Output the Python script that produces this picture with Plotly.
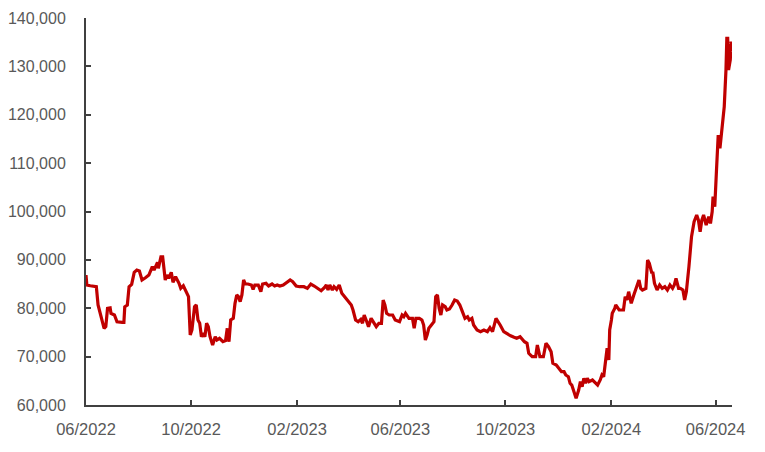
import plotly.graph_objects as go

dates = [
    "2022-06-01", "2022-06-02", "2022-06-06", "2022-06-13", "2022-06-15", "2022-06-18", "2022-06-22", "2022-06-24",
    "2022-06-26", "2022-06-29", "2022-06-30", "2022-07-04", "2022-07-07", "2022-07-13", "2022-07-15", "2022-07-16",
    "2022-07-19", "2022-07-21", "2022-07-24", "2022-07-27", "2022-07-30", "2022-08-02", "2022-08-05", "2022-08-09",
    "2022-08-13", "2022-08-17", "2022-08-19", "2022-08-23", "2022-08-24", "2022-08-27", "2022-08-29", "2022-09-01",
    "2022-09-03", "2022-09-05", "2022-09-08", "2022-09-10", "2022-09-13", "2022-09-17", "2022-09-19", "2022-09-22",
    "2022-09-25", "2022-09-28", "2022-09-30", "2022-10-02", "2022-10-05", "2022-10-07", "2022-10-09", "2022-10-11",
    "2022-10-13", "2022-10-15", "2022-10-17", "2022-10-19", "2022-10-21", "2022-10-23", "2022-10-26", "2022-10-29",
    "2022-10-31", "2022-11-03", "2022-11-07", "2022-11-10", "2022-11-12", "2022-11-14", "2022-11-16", "2022-11-19",
    "2022-11-21", "2022-11-23", "2022-11-25", "2022-11-27", "2022-11-29", "2022-12-01", "2022-12-03", "2022-12-06",
    "2022-12-10", "2022-12-12", "2022-12-14", "2022-12-18", "2022-12-21", "2022-12-23", "2022-12-27", "2022-12-30",
    "2023-01-03", "2023-01-06", "2023-01-09", "2023-01-12", "2023-01-16", "2023-01-20", "2023-01-24", "2023-01-27",
    "2023-01-31", "2023-02-04", "2023-02-09", "2023-02-13", "2023-02-17", "2023-02-21", "2023-02-25", "2023-03-01",
    "2023-03-05", "2023-03-07", "2023-03-09", "2023-03-11", "2023-03-14", "2023-03-16", "2023-03-19", "2023-03-22",
    "2023-03-25", "2023-03-28", "2023-04-01", "2023-04-05", "2023-04-07", "2023-04-10", "2023-04-13", "2023-04-16",
    "2023-04-18", "2023-04-20", "2023-04-23", "2023-04-25", "2023-04-28", "2023-05-01", "2023-05-04", "2023-05-07",
    "2023-05-10", "2023-05-12", "2023-05-14", "2023-05-16", "2023-05-19", "2023-05-23", "2023-05-26", "2023-05-31",
    "2023-06-03", "2023-06-05", "2023-06-07", "2023-06-11", "2023-06-15", "2023-06-17", "2023-06-19", "2023-06-23",
    "2023-06-26", "2023-06-28", "2023-06-30", "2023-07-02", "2023-07-04", "2023-07-07", "2023-07-10", "2023-07-12",
    "2023-07-14", "2023-07-16", "2023-07-18", "2023-07-20", "2023-07-23", "2023-07-25", "2023-07-28", "2023-07-31",
    "2023-08-03", "2023-08-06", "2023-08-09", "2023-08-12", "2023-08-15", "2023-08-18", "2023-08-20", "2023-08-23",
    "2023-08-25", "2023-08-29", "2023-09-02", "2023-09-06", "2023-09-10", "2023-09-13", "2023-09-16", "2023-09-20",
    "2023-09-23", "2023-09-25", "2023-09-29", "2023-10-03", "2023-10-07", "2023-10-11", "2023-10-14", "2023-10-18",
    "2023-10-21", "2023-10-23", "2023-10-26", "2023-10-28", "2023-11-01", "2023-11-05", "2023-11-07", "2023-11-10",
    "2023-11-13", "2023-11-14", "2023-11-17", "2023-11-20", "2023-11-23", "2023-11-25", "2023-11-29", "2023-12-02",
    "2023-12-05", "2023-12-08", "2023-12-10", "2023-12-13", "2023-12-15", "2023-12-17", "2023-12-20", "2023-12-22",
    "2023-12-25", "2023-12-27", "2023-12-29", "2023-12-31", "2024-01-02", "2024-01-04", "2024-01-06", "2024-01-10",
    "2024-01-14", "2024-01-16", "2024-01-19", "2024-01-21", "2024-01-23", "2024-01-25", "2024-01-27", "2024-01-29",
    "2024-01-30", "2024-02-01", "2024-02-02", "2024-02-05", "2024-02-06", "2024-02-10", "2024-02-15", "2024-02-17",
    "2024-02-19", "2024-02-21", "2024-02-24", "2024-02-27", "2024-03-01", "2024-03-04", "2024-03-06", "2024-03-08",
    "2024-03-12", "2024-03-14", "2024-03-16", "2024-03-19", "2024-03-20", "2024-03-22", "2024-03-25", "2024-03-28",
    "2024-03-31", "2024-04-03", "2024-04-06", "2024-04-09", "2024-04-12", "2024-04-14", "2024-04-16", "2024-04-19",
    "2024-04-21", "2024-04-24", "2024-04-26", "2024-04-28", "2024-05-01", "2024-05-04", "2024-05-07", "2024-05-10",
    "2024-05-12", "2024-05-14", "2024-05-16", "2024-05-18", "2024-05-21", "2024-05-24", "2024-05-26", "2024-05-28",
    "2024-05-29", "2024-05-31", "2024-06-02", "2024-06-04", "2024-06-06", "2024-06-08", "2024-06-10", "2024-06-11",
    "2024-06-13", "2024-06-14", "2024-06-15", "2024-06-16", "2024-06-18", "2024-06-19", "2024-06-20",
]

prices = [
    86870, 84800, 84660, 84450, 80670, 78600, 75850, 76200,
    80000, 80100, 78950, 78600, 77200, 77100, 77100, 80300,
    80670, 84450, 84950, 87430, 87900, 87700, 85840, 86310,
    86870, 88590, 87900, 89500, 88260, 90650, 90650, 85840,
    86870, 86180, 87430, 85360, 86520, 85150, 84110, 84660,
    83420, 82390, 74470, 75500, 80320, 80670, 77570, 76890,
    74120, 74820, 74120, 76890, 76190, 74120, 72400, 74120,
    73440, 73790, 73090, 73290, 75850, 73090, 77570, 77920,
    81020, 82740, 82390, 81360, 82740, 85840, 85010, 85010,
    84800, 83910, 84800, 84800, 83420, 85010, 85150, 84600,
    85010, 84600, 84800, 84600, 84800, 85280, 85840, 85490,
    84600, 84450, 84450, 84110, 85010, 84600, 84110, 83620,
    84320, 84800, 83770, 84800, 83770, 84450, 83910, 84800,
    83090, 82390, 81360, 80670, 79640, 77570, 77220, 77710,
    76890, 78600, 77220, 76190, 77920, 76890, 76190, 76890,
    76890, 81700, 80670, 78950, 78600, 78600, 77570, 77220,
    78600, 78260, 78950, 77920, 77920, 75850, 77920, 77920,
    77570, 76540, 73440, 74470, 75850, 76540, 77220, 82390,
    82740, 79990, 78600, 80670, 80320, 79640, 79840, 80670,
    81700, 81500, 80670, 79290, 77920, 78260, 77570, 77920,
    76540, 75500, 75150, 75500, 75150, 75990, 75150, 77920,
    77220, 76500, 75150, 74700, 74300, 74000, 73790, 74120,
    73440, 73090, 72750, 70680, 69980, 69980, 72400, 69980,
    69980, 69980, 72750, 72060, 71020, 68620, 68270, 67590,
    66890, 66890, 66200, 65850, 64490, 64130, 62750, 61380,
    63100, 64820, 63790, 65520, 64490, 65520, 64820, 65170,
    64490, 64130, 65170, 66200, 65850, 69650, 71720, 69300,
    75500, 77570, 78950, 80000, 80670, 79640, 79640, 82390,
    81700, 83420, 81020, 82740, 84110, 85840, 84110, 83770,
    84110, 89970, 89280, 87220, 87560, 85150, 83770, 84800,
    84110, 84450, 83770, 84800, 84110, 84800, 86180, 84110,
    84110, 83770, 81700, 83420, 88590, 94790, 97890, 99280,
    98240, 95820, 98240, 99280, 97210, 98930, 97540, 100000,
    103060, 101000, 108580, 115820, 113050, 116850, 121330, 121690,
    129270, 135800, 135800, 129270, 131340, 135100, 133000,
]

x_tick_values = ["2022-06-01", "2022-10-01", "2023-02-01", "2023-06-01", "2023-10-01", "2024-02-01", "2024-06-01"]
x_tick_labels = ["06/2022", "10/2022", "02/2023", "06/2023", "10/2023", "02/2024", "06/2024"]
y_tick_values = [60000, 70000, 80000, 90000, 100000, 110000, 120000, 130000, 140000]
y_tick_labels = ["60,000", "70,000", "80,000", "90,000", "100,000", "110,000", "120,000", "130,000", "140,000"]

axis_color = "#404040"
text_color = "#595959"
font_family = "Liberation Sans, Arial, sans-serif"

fig = go.Figure()
fig.add_trace(go.Scatter(
    x=dates, y=prices, mode="lines",
    line=dict(color="#C00000", width=3.2),
    showlegend=False, hoverinfo="skip", cliponaxis=False,
))

fig.update_layout(
    width=757, height=444,
    margin=dict(l=78, r=33, t=10, b=47, autoexpand=False),
    paper_bgcolor="white", plot_bgcolor="white",
    font=dict(family=font_family, size=16, color=text_color),
    showlegend=False,
)

fig.update_xaxes(
    type="date",
    range=["2022-06-01", "2024-06-20"],
    tickmode="array", tickvals=x_tick_values, ticktext=x_tick_labels,
    ticks="inside", ticklen=5, tickwidth=1.5, tickcolor=axis_color,
    showline=True, linecolor=axis_color, linewidth=2,
    showgrid=False, zeroline=False, automargin=False,
    tickfont=dict(family=font_family, size=16.5, color=text_color),
    ticklabelstandoff=8,
)
fig.update_yaxes(
    range=[60000, 140000],
    tickmode="array", tickvals=y_tick_values, ticktext=y_tick_labels,
    ticks="inside", ticklen=5, tickwidth=1.5, tickcolor=axis_color,
    showline=True, linecolor=axis_color, linewidth=2,
    showgrid=False, zeroline=False, automargin=False,
    tickfont=dict(family=font_family, size=16, color=text_color),
    ticklabelstandoff=15,
)

fig.write_html("out.html")
